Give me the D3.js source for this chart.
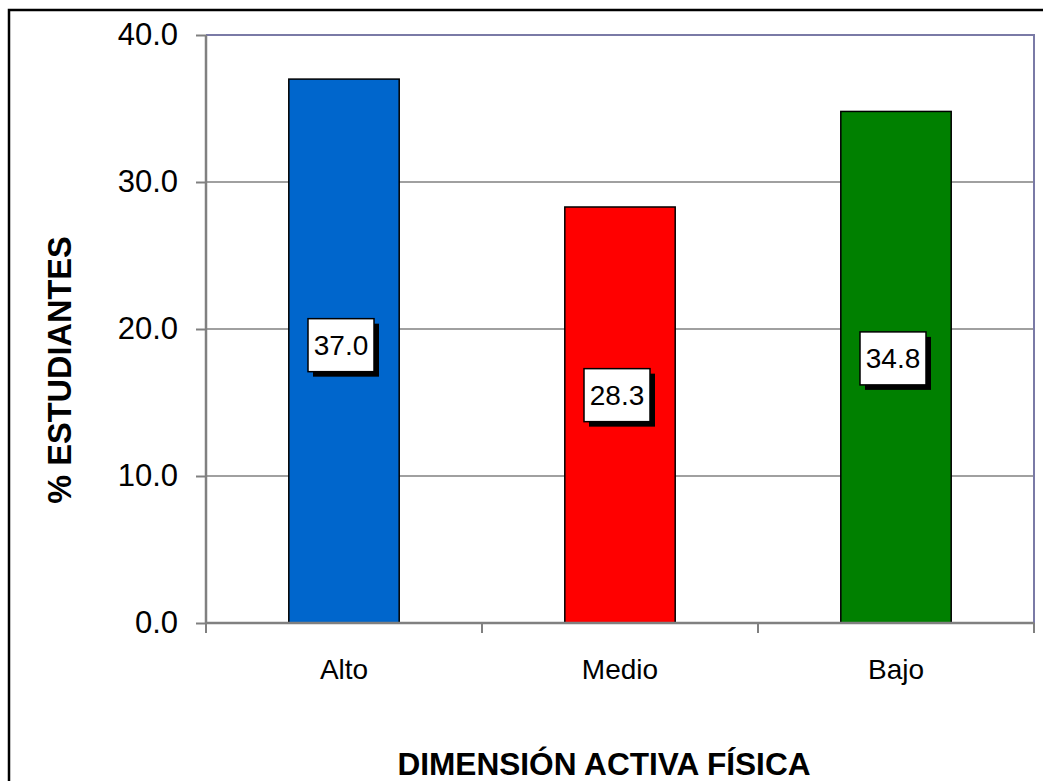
<!DOCTYPE html>
<html><head><meta charset="utf-8">
<script src="https://cdn.jsdelivr.net/npm/d3@7"></script>
<style>body{margin:0;background:#fff}svg{display:block;font-family:Arial,"Liberation Sans",sans-serif}</style>
</head><body><svg id="c" width="1043" height="781"></svg>
<script>
const categories = ["Alto", "Medio", "Bajo"];
const values = [37.0, 28.3, 34.8];
const barColors = ["#0066cc", "#ff0000", "#008000"];
const labelAnchor = [18.9, 15.5, 18.0]; // value-axis position of each data label box
const yTicks = [0, 10, 20, 30, 40];
const yTitle = "% ESTUDIANTES";
const xTitle = "DIMENSIÓN ACTIVA FÍSICA";

const svg = d3.select("#c");
const L = 206, R = 1034, T = 35, B = 623;
const x = d3.scaleBand().domain(categories).range([L, R]).paddingInner(0).paddingOuter(0);
const y = d3.scaleLinear().domain([0, 40]).range([B, T]);

// outer frame
svg.append("rect").attr("x", 9).attr("y", 10).attr("width", 1100).attr("height", 900)
  .attr("fill", "none").attr("stroke", "#000").attr("stroke-width", 2.5);

// gridlines
svg.append("g").selectAll("line").data(yTicks.filter(d => d > 0 && d < 40)).join("line")
  .attr("x1", L).attr("x2", R).attr("y1", d => y(d)).attr("y2", d => y(d))
  .attr("stroke", "#808080").attr("stroke-width", 1.5);

// plot border top/right
svg.append("path").attr("d", `M${L},${y(40)}H${R}V${B}`).attr("fill", "none")
  .attr("stroke", "#7a7aa6").attr("stroke-width", 2);

// bars
const bw = x.bandwidth() * 0.4;
svg.append("g").selectAll("rect").data(values).join("rect")
  .attr("x", (d, i) => x(categories[i]) + x.bandwidth() / 2 - bw / 2)
  .attr("y", d => y(d)).attr("width", bw).attr("height", d => y(0) - y(d))
  .attr("fill", (d, i) => barColors[i]).attr("stroke", "#000").attr("stroke-width", 1.5);

// y axis
const yAxis = d3.axisLeft(y).tickValues(yTicks).tickFormat(d3.format(".1f")).tickSize(10).tickPadding(18);
const gy = svg.append("g").attr("transform", `translate(${L},0)`).call(yAxis);
gy.select(".domain").attr("stroke", "#808080").attr("stroke-width", 2.5).attr("d", `M0,${T}V${B}`);
gy.selectAll(".tick line").attr("stroke", "#808080").attr("stroke-width", 2);
gy.selectAll(".tick text").attr("font-size", 31).attr("fill", "#000").attr("font-family", "Arial,'Liberation Sans',sans-serif");

// x axis
const xEdges = d3.scaleLinear().domain([0, 3]).range([L, R]);
const gx = svg.append("g");
gx.append("line").attr("x1", L).attr("x2", R).attr("y1", B).attr("y2", B)
  .attr("stroke", "#808080").attr("stroke-width", 2.5);
gx.selectAll("line.t").data(d3.range(4)).join("line").attr("class", "t")
  .attr("x1", d => xEdges(d)).attr("x2", d => xEdges(d)).attr("y1", B).attr("y2", B + 10)
  .attr("stroke", "#808080").attr("stroke-width", 2);
gx.selectAll("text").data(categories).join("text")
  .attr("x", d => x(d) + x.bandwidth() / 2).attr("y", 679)
  .attr("text-anchor", "middle").attr("font-size", 28).text(d => d);

// data labels
const bw2 = 66, bh = 53;
const lg = svg.append("g").selectAll("g").data(values).join("g")
  .attr("transform", (d, i) => `translate(${x(categories[i]) + x.bandwidth() / 2 - 3},${y(labelAnchor[i])})`);
lg.append("rect").attr("x", -bw2 / 2 + 5).attr("y", -bh / 2 + 5).attr("width", bw2).attr("height", bh).attr("fill", "#000");
lg.append("rect").attr("x", -bw2 / 2).attr("y", -bh / 2).attr("width", bw2).attr("height", bh)
  .attr("fill", "#fff").attr("stroke", "#000").attr("stroke-width", 1.5);
lg.append("text").attr("text-anchor", "middle").attr("y", 10).attr("font-size", 28)
  .text(d => d3.format(".1f")(d));

// titles
svg.append("text").attr("transform", "translate(71,370) rotate(-90)").attr("text-anchor", "middle")
  .attr("font-size", 32.5).attr("font-weight", "bold").text(yTitle);
svg.append("text").attr("x", 604).attr("y", 775).attr("text-anchor", "middle")
  .attr("font-size", 31.6).attr("font-weight", "bold").text(xTitle);
</script></body></html>
